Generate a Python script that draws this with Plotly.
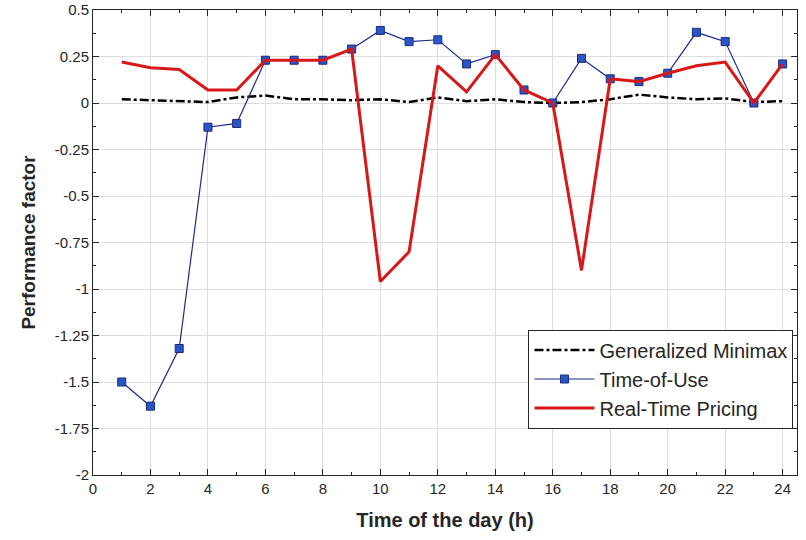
import plotly.graph_objects as go

hours = list(range(1, 25))
minimax = [0.02, 0.015, 0.007, 0.005, 0.03, 0.04, 0.02, 0.02, 0.015, 0.02, 0.005, 0.03,
           0.01, 0.02, 0.005, 0.0, 0.005, 0.02, 0.045, 0.03, 0.02, 0.025, 0.005, 0.01]
tou = [-1.5, -1.63, -1.32, -0.13, -0.11, 0.23, 0.23, 0.23, 0.29, 0.39, 0.33, 0.34,
       0.21, 0.26, 0.07, 0.0, 0.24, 0.13, 0.115, 0.16, 0.38, 0.33, 0.0, 0.21]
rtp = [0.22, 0.19, 0.18, 0.07, 0.07, 0.23, 0.23, 0.23, 0.29, -0.96, -0.80, 0.20,
       0.06, 0.26, 0.07, 0.0, -0.90, 0.13, 0.115, 0.16, 0.20, 0.22, 0.0, 0.21]

xticks = list(range(0, 25, 2))
yticks = [0.5, 0.25, 0, -0.25, -0.5, -0.75, -1, -1.25, -1.5, -1.75, -2]
yticklabels = ["0.5", "0.25", "0", "-0.25", "-0.5", "-0.75", "-1", "-1.25", "-1.5", "-1.75", "-2"]

FONT = "Liberation Sans, Arial"

fig = go.Figure()
fig.add_trace(go.Scatter(x=hours, y=minimax, mode="lines", name="Generalized Minimax",
                         line=dict(color="black", width=2.5, dash="dashdot")))
fig.add_trace(go.Scatter(x=hours, y=tou, mode="lines+markers", name="Time-of-Use",
                         line=dict(color="#1a2a8a", width=1.2),
                         marker=dict(symbol="square", size=8, color="#2a55c8",
                                     line=dict(color="#1a2a7a", width=1))))
fig.add_trace(go.Scatter(x=hours, y=rtp, mode="lines", name="Real-Time Pricing",
                         line=dict(color="#d81818", width=3)))

axis_common = dict(showline=True, linecolor="#262626", linewidth=1, mirror="ticks",
                   ticks="inside", ticklen=6, tickcolor="#262626", automargin=False,
                   gridcolor="#dedede", gridwidth=1, zeroline=False,
                   tickfont=dict(family=FONT, size=15, color="#262626"))

fig.update_xaxes(range=[0, 24.5], tickvals=xticks,
                 title=dict(text="<b>Time of the day (h)</b>", standoff=16,
                            font=dict(family=FONT, size=20, color="#262626")),
                 minor=dict(dtick=1, tick0=0, ticks="inside", ticklen=3, tickcolor="#262626", showgrid=False),
                 **axis_common)
fig.update_yaxes(range=[-2, 0.5], tickvals=yticks, ticktext=yticklabels,
                 title=dict(text="<b>Performance factor</b>", standoff=14,
                            font=dict(family=FONT, size=19, color="#262626")),
                 minor=dict(dtick=0.125, tick0=0, ticks="inside", ticklen=3, tickcolor="#262626", showgrid=False),
                 **axis_common)

fig.update_layout(
    width=806, height=540,
    margin=dict(l=93, r=9, t=10, b=65),
    plot_bgcolor="white", paper_bgcolor="white",
    legend=dict(x=0.995, y=0.1, xanchor="right", yanchor="bottom",
                bgcolor="white", bordercolor="#262626", borderwidth=1,
                font=dict(family=FONT, size=20, color="#262626"),
                itemwidth=60, tracegroupgap=0),
    showlegend=True,
)

fig.write_html("out.html")
